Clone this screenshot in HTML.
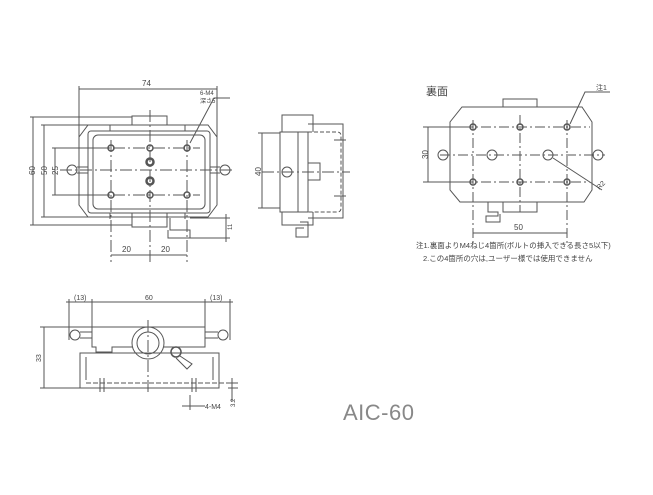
<!DOCTYPE html>
<html><head><meta charset="utf-8"><style>
html,body{margin:0;padding:0;background:#fff;width:653px;height:495px;overflow:hidden}
svg{display:block}
text{font-family:"Liberation Sans","Noto Sans CJK JP",sans-serif;fill:#444}
</style></head><body>
<svg width="653" height="495" viewBox="0 0 653 495" xmlns="http://www.w3.org/2000/svg">
<g stroke="#555" stroke-width="1" fill="none">
<!-- TOP VIEW -->
<path d="M79 89H217M79 86V172M217 86V172"/>
<path d="M88 125H208L217 137V205L208 217H88L79 205V137Z"/>
<rect x="88" y="131" width="122" height="82" rx="3"/>
<rect x="93" y="135" width="112" height="74" rx="5"/>
<path d="M132 125V116H167V125M132 213V227H167V213"/>
<path d="M110 125V131M185 125V131M110 213V219M185 213V219"/>
<path d="M60 170H235" stroke-dasharray="12 3 2 3"/>
<path d="M150 110V262M111 140V262M187 140V262" stroke-dasharray="12 3 2 3"/>
<path d="M53 148H200M53 195H200" stroke-dasharray="12 3 2 3"/>
<circle cx="72" cy="170" r="5"/><path d="M77 167H88M77 173H88"/>
<circle cx="225" cy="170" r="5"/><path d="M210 167H220M210 173H220"/>
<g stroke-width="1.5"><circle cx="111" cy="148" r="3"/><circle cx="150" cy="148" r="3"/><circle cx="187" cy="148" r="3"/>
<circle cx="111" cy="195" r="3"/><circle cx="150" cy="195" r="3"/><circle cx="187" cy="195" r="3"/>
<circle cx="150" cy="162" r="3.5" stroke-width="2.5"/><circle cx="150" cy="181" r="3.5" stroke-width="2.5"/></g>
<path d="M30 117H132M41 125H88M52 148H110M52 195H110M30 225H132M41 217H88"/>
<path d="M33 117V225M44 125V217M55 148V195"/>
<path d="M170 218V230H190V238H168V230"/>
<path d="M190 238H230M190 218H230M226 214V242"/>
<path d="M111 255H187"/>
<path d="M190 143L214 98H230"/>
<!-- SIDE VIEW -->
<rect x="280" y="132" width="18" height="80"/>
<path d="M298 132H308V212H298"/>
<path d="M282 132V115H313V132M282 212V225H313V212"/>
<path d="M308 124H343V218H308"/>
<path d="M308 132H337Q341 132 341 136V208Q341 212 337 212H308" stroke-dasharray="4 2"/>
<path d="M308 163H320V180H308"/>
<circle cx="287" cy="172" r="5"/>
<path d="M262 172H350" stroke-dasharray="12 3 2 3"/>
<path d="M258 133H280M258 208H280M262 133V208"/>
<path d="M300 222H308V237H296V228H304"/>
<path d="M334 140H346M334 196H346"/>
<!-- REAR VIEW -->
<path d="M462 107H582L592 122V190L584 202H460L450 190V122Z"/>
<path d="M503 107V99H537V107M503 202V212H537V202"/>
<path d="M488 202V212H498V216H486V222H500V214"/>
<path d="M473 120V245M520 115V212M567 120V245" stroke-dasharray="10 3 2 3"/>
<path d="M440 155H605M445 127H590M445 182H590" stroke-dasharray="10 3 2 3"/>
<path d="M423 127H472M423 182H472M428 127V182"/>
<path d="M473 233H567"/>
<g stroke-width="1.5"><circle cx="473" cy="127" r="3"/><circle cx="520" cy="127" r="3"/><circle cx="567" cy="127" r="3"/>
<circle cx="473" cy="182" r="3"/><circle cx="520" cy="182" r="3"/><circle cx="567" cy="182" r="3"/></g>
<circle cx="443" cy="155" r="5"/><circle cx="492" cy="155" r="5"/><circle cx="548" cy="155" r="5"/><circle cx="598" cy="155" r="5"/>
<path d="M553 158L602 190M570 124L585 92H610"/>
<!-- FRONT VIEW -->
<path d="M66 302H233M69 299V340M92 299V330M205 299V330M230 299V340"/>
<path d="M40 327H92M40 388H80M44 327V388"/>
<path d="M92 327H205V347H112V352H96V347H92Z"/>
<circle cx="75" cy="335" r="5"/><path d="M80 332H92M80 338H92"/>
<circle cx="223" cy="335" r="5"/><path d="M205 332H218M205 338H218"/>
<circle cx="148" cy="343" r="16" fill="#fff"/><circle cx="148" cy="343" r="11"/>
<path d="M80 353H219V388H80Z"/>
<path d="M86 357V380M213 357V380"/>
<path d="M86 383H230" stroke-dasharray="5 2"/>
<path d="M148 320V395" stroke-dasharray="12 3 2 3"/>
<circle cx="176" cy="352" r="5" stroke-width="1.5"/><path d="M180 356L192 364L187 369L176 358"/>
<path d="M100 378V392M104 378V392M192 378V392M196 378V392"/>
<path d="M190 395V410M182 406H205M232 378V402M228 388H238M228 383H238"/>
</g>
<g font-size="8">
<text x="142" y="86">74</text>
<text x="200" y="95" font-size="6">6-M4</text>
<text x="200" y="103" font-size="6">深さ5</text>
<text x="27" y="175" transform="rotate(-90 31 171)">60</text>
<text x="39" y="175" transform="rotate(-90 43 171)">50</text>
<text x="50" y="175" transform="rotate(-90 54 171)">25</text>
<text x="122" y="252">20</text>
<text x="161" y="252">20</text>
<text x="226" y="232" font-size="6" transform="rotate(-90 228 228)">11</text>
<text x="252" y="175" transform="rotate(-90 257 171)">40</text>
<text x="426" y="95" font-size="11">裏面</text>
<text x="596" y="90" font-size="7">注1</text>
<text x="596" y="188" font-size="7" transform="rotate(-45 600 185)">R2</text>
<text x="421" y="158" transform="rotate(-90 425 155)">30</text>
<text x="514" y="230">50</text>
<text x="416" y="248" font-size="7.5">注1.裏面よりM4ねじ4箇所(ボルトの挿入できる長さ5以下)</text>
<text x="423" y="261" font-size="7.5">2.この4箇所の穴は,ユーザー様では使用できません</text>
<text x="74" y="300" font-size="7">(13)</text>
<text x="145" y="300" font-size="7">60</text>
<text x="210" y="300" font-size="7">(13)</text>
<text x="34" y="361" font-size="7" transform="rotate(-90 38 358)">33</text>
<text x="205" y="409" font-size="7">4-M4</text>
<text x="228" y="404" font-size="6" transform="rotate(-90 233 402)">3.2</text>
<text x="343" y="420" font-size="22" style="fill:#888;letter-spacing:0.5px">AIC-60</text>
</g>
</svg>
</body></html>
